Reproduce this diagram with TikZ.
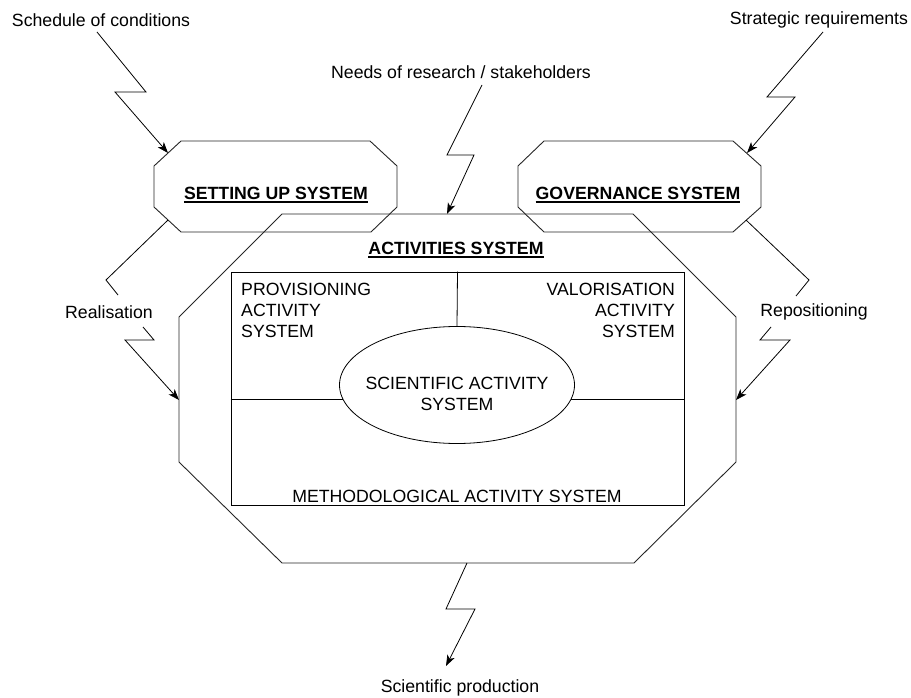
\documentclass[tikz,border=0pt]{standalone}
\usepackage{fontspec}
\setmainfont{Liberation Sans}
\usetikzlibrary{arrows.meta,shapes.geometric}
\newcommand\myfs{\fontsize{17.7}{21}\selectfont}
\begin{document}
\begin{tikzpicture}[x=1pt,y=-1pt,
  lbl/.style={font=\myfs, inner sep=0pt},
  ttl/.style={font=\myfs\bfseries, inner sep=0pt},
  octa/.style={draw=black!85, line width=0.9pt},
  thin/.style={draw=black, line width=0.8pt},
  ul/.style={draw=black, line width=1.8pt},
  conn/.style={draw=black, line width=0.8pt},
  arr/.style={conn, -{Stealth[length=11pt,width=8pt,inset=3pt]}}]
\useasboundingbox (0,0) rectangle (911,698);

% octagons
\draw[octa] (181,141) -- (370,141) -- (397,166) -- (397,207) -- (371,232) -- (181,232) -- (154,207) -- (154,166) -- cycle;
\draw[octa] (544,141) -- (733,141) -- (761,166) -- (761,207) -- (733,232) -- (544,232) -- (518,207) -- (518,166) -- cycle;
\draw[octa] (282,214) -- (633,214) -- (736,317) -- (736,462) -- (634,563) -- (282,563) -- (179,462) -- (179,317) -- cycle;

% titles
\node[ttl] (setup) at (276,193) {SETTING UP SYSTEM};
\draw[ul] ([yshift=-2.5pt]setup.south west) -- ([yshift=-2.5pt]setup.south east);
\node[ttl] (gov) at (638,193) {GOVERNANCE SYSTEM};
\draw[ul] ([yshift=-2.5pt]gov.south west) -- ([yshift=-2.5pt]gov.south east);
\node[ttl] (act) at (456,248) {ACTIVITIES SYSTEM};
\draw[ul] ([yshift=-2.5pt]act.south west) -- ([yshift=-2.5pt]act.south east);

% inner rectangle and ellipse
\node[thin, minimum width=453pt, minimum height=233pt, inner sep=0pt] (inner) at (457.5,388.5) {};
\node[thin, ellipse, minimum width=235pt, minimum height=117pt, inner sep=0pt] (sciell) at (457,385) {};
\draw[thin] (inner.north) -- (sciell.north);
\draw[thin] (sciell.187.5 -| inner.west) -- (sciell.187.5);
\draw[thin] (sciell.-7.5) -- (sciell.-7.5 -| inner.east);

\node[lbl, align=left, anchor=north west] (prov) at (241,283) {PROVISIONING\\ACTIVITY\\SYSTEM};
\node[lbl, align=right, anchor=north east] (valo) at (675,283) {VALORISATION\\ACTIVITY\\SYSTEM};
\node[lbl, align=center] (sci) at (457,394) {SCIENTIFIC ACTIVITY\\SYSTEM};
\node[lbl] (meth) at (457,496) {METHODOLOGICAL ACTIVITY SYSTEM};

% outer labels
\node[lbl] (sched) at (101,20) {Schedule of conditions};
\node[lbl] (strat) at (819,20) {Strategic requirements};
\node[lbl] (needs) at (461,72) {Needs of research / stakeholders};
\node[lbl] (realis) at (109,312) {Realisation};
\node[lbl] (repos) at (814,312) {Repositioning};
\node[lbl] (prod) at (460,688) {Scientific production};

% anchor points on shapes
\coordinate (setupTL) at (168,153);
\coordinate (setupBL) at (168,220);
\coordinate (govTR) at (747,153);
\coordinate (govBR) at (746,220);
\coordinate (actT) at (447,214);
\coordinate (actL) at (179,400);
\coordinate (actR) at (736,400);
\coordinate (actB) at (467,563);

% connectors
\draw[arr] ([shift={(-4,12)}]sched.center) -- (146,92) -- (115,92) -- (setupTL);
\draw[arr] ([shift={(4,12)}]strat.center) -- (767,97) -- (795,97) -- (govTR);
\draw[arr] ([shift={(21,13)}]needs.center) -- (447,155) -- (474,155) -- (actT);
\draw[conn] (setupBL) -- (106,280) -- ([shift={(9,-17)}]realis.center);
\draw[arr] ([shift={(34,15)}]realis.center) -- (154,340) -- (125,340) -- (actL);
\draw[conn] (govBR) -- (809,280) -- ([shift={(-18,-16)}]repos.center);
\draw[arr] ([shift={(-43,15)}]repos.center) -- (760,340) -- (790,340) -- (actR);
\draw[arr] (actB) -- (446,609) -- (475,609) -- ([shift={(-14,-22)}]prod.center);
\end{tikzpicture}
\end{document}
